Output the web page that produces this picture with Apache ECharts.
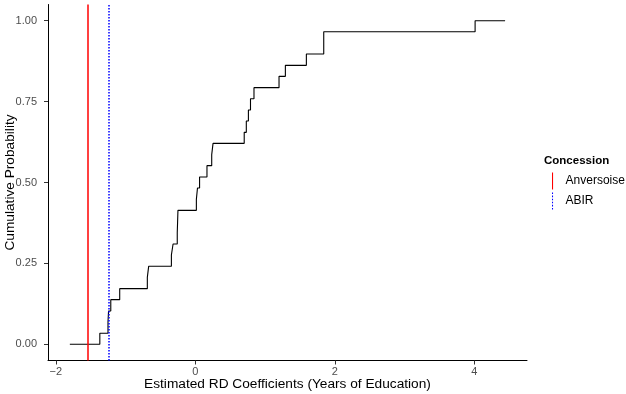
<!DOCTYPE html>
<html>
<head>
<meta charset="utf-8">
<script src="https://cdn.jsdelivr.net/npm/echarts@6/dist/echarts.min.js"></script>
<style>
  html, body { margin: 0; padding: 0; background: #fff; }
  #main { width: 626px; height: 394px; }
</style>
</head>
<body>
<div id="main"></div>
<script>
// ECDF of the estimated RD coefficients (step points)
var ecdfX = [-1.80, -1.37, -1.253, -1.245, -1.213, -1.085, -0.689, -0.67, -0.344, -0.32,
             -0.26, -0.255, -0.25, 0.014, 0.03, 0.06, 0.166, 0.234, 0.253, 0.70,
             0.73, 0.76, 0.79, 0.84, 1.199, 1.29, 1.591, 1.84, 1.84, 4.01, 4.44];
var ecdfY = [0, 0.034, 0.069, 0.103, 0.138, 0.172, 0.207, 0.241, 0.276, 0.310,
             0.345, 0.379, 0.414, 0.448, 0.483, 0.517, 0.552, 0.586, 0.621, 0.655,
             0.690, 0.724, 0.759, 0.793, 0.828, 0.862, 0.897, 0.931, 0.966, 1.000, 1.000];
// concession reference lines (vertical, span the panel)
var concessions = ['Anversoise', 'ABIR'];
var concessionX = [-1.548, -1.243];
var xTicks = [-2, 0, 2, 4];
var yTicks = [0, 0.25, 0.5, 0.75, 1];

var points = [];
for (var i = 0; i < ecdfX.length; i++) {
    points.push([ecdfX[i], ecdfY[i]]);
}

var font = '"Liberation Sans", Arial, Helvetica, sans-serif';
var tickColor = '#4d4d4d';
var red = '#ff0000';
var blue = '#0000ff';

function vline(name, x, color, type, width) {
    return {
        name: name,
        type: 'line',
        data: [[x, 0]],
        showSymbol: false,
        itemStyle: { color: color },
        lineStyle: { color: color, width: 0 },
        markLine: {
            silent: true,
            symbol: 'none',
            label: { show: false },
            emphasis: { disabled: true },
            lineStyle: { color: color, width: width, type: type, opacity: 1 },
            data: [{ xAxis: x }]
        },
        z: 2
    };
}

var myChart = echarts.init(document.getElementById('main'));
var option = {
    animation: false,
    title: {
        text: 'Concession',
        left: 544,
        top: 155,
        padding: 0,
        textStyle: { fontFamily: font, fontSize: 11.5, fontWeight: 'bold', color: '#000' }
    },
    legend: {
        data: [
            { name: concessions[0], icon: 'path://M0,0h1v16h-1z' },
            { name: concessions[1], icon: 'path://M0,0h1v1.5h-1z M0,3h1v1.5h-1z M0,6h1v1.5h-1z M0,9h1v1.5h-1z M0,12h1v1.5h-1z M0,15h1v1.5h-1z' }
        ],
        orient: 'vertical',
        left: 552,
        top: 172.5,
        padding: 0,
        itemWidth: 2,
        itemHeight: 17,
        itemGap: 3,
        selectedMode: false,
        textStyle: { fontFamily: font, fontSize: 12, color: '#000', padding: [0, 0, 0, 7] }
    },
    grid: { left: 48, right: 99, top: 4.5, bottom: 33.5, outerBoundsMode: 'none' },
    xAxis: {
        type: 'value',
        min: -2.113,
        max: 4.754,
        name: 'Estimated RD Coefficients (Years of Education)',
        nameLocation: 'middle',
        nameGap: 17,
        nameMoveOverlap: false,
        nameTextStyle: { fontFamily: font, fontSize: 13.7, color: '#000' },
        axisLine: { onZero: false, lineStyle: { color: '#000', width: 1 } },
        axisTick: { customValues: xTicks, length: 4, lineStyle: { color: '#333' } },
        axisLabel: {
            customValues: xTicks,
            margin: 6,
            fontFamily: font, fontSize: 11, color: tickColor,
            formatter: function (v) { return v < 0 ? '\u2212' + Math.abs(v) : String(v); }
        },
        splitLine: { show: false }
    },
    yAxis: {
        type: 'value',
        min: -0.05,
        max: 1.05,
        name: 'Cumulative Probability',
        nameLocation: 'middle',
        nameGap: 31,
        nameMoveOverlap: false,
        nameTextStyle: { fontFamily: font, fontSize: 13.7, color: '#000' },
        axisLine: { show: true, onZero: false, lineStyle: { color: '#000', width: 1 } },
        axisTick: { show: true, customValues: yTicks, length: 4, lineStyle: { color: '#333' } },
        axisLabel: {
            customValues: yTicks,
            margin: 11,
            fontFamily: font, fontSize: 11, color: tickColor,
            formatter: function (v) { return v.toFixed(2); }
        },
        splitLine: { show: false }
    },
    series: [
        {
            name: 'ecdf',
            type: 'line',
            step: 'end',
            data: points,
            showSymbol: false,
            lineStyle: { color: '#000', width: 1.1 },
            itemStyle: { color: '#000' },
            z: 3
        },
        vline(concessions[0], concessionX[0], red, 'solid', 1.5),
        vline(concessions[1], concessionX[1], blue, [1.5, 1.5], 1.5)
    ]
};
myChart.setOption(option);
</script>
</body>
</html>
